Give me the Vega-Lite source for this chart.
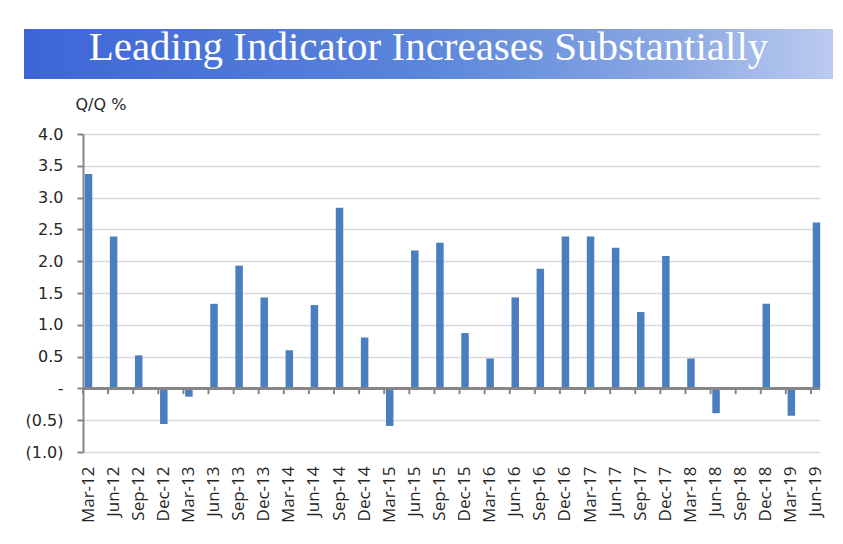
{
  "$schema": "https://vega.github.io/schema/vega-lite/v6.json",
  "padding": {"left": 24, "top": 27, "right": 5, "bottom": 0},
  "background": "white",
  "config": {"view": {"stroke": null}},
  "spacing": 17,
  "vconcat": [
    {
      "width": 809,
      "height": 50,
      "data": {"values": [{"title": "Leading Indicator Increases Substantially"}]},
      "layer": [
        {
          "mark": {
            "type": "rect",
            "color": {
              "gradient": "linear",
              "x1": 0, "y1": 0, "x2": 1, "y2": 0,
              "stops": [
                {"offset": 0, "color": "#3e65d7"},
                {"offset": 0.5, "color": "#5b86da"},
                {"offset": 0.8, "color": "#8aa8e3"},
                {"offset": 1, "color": "#bccbf0"}
              ]
            }
          },
          "encoding": {}
        },
        {
          "mark": {"type": "text", "font": "Liberation Serif", "fontSize": 41, "color": "white", "align": "center", "baseline": "alphabetic", "dy": 6},
          "encoding": {"text": {"field": "title"}}
        }
      ]
    },
    {
      "spacing": 0,
      "hconcat": [
        {
          "width": 1,
          "height": 318,
          "data": {"values": [{"t": ""}]},
          "mark": {"type": "text"},
          "encoding": {"text": {"field": "t"}}
        },
        {
          "width": 737,
          "height": 318,
          "data": {"values": [
            {"q": "Mar-12", "v": 3.37},
            {"q": "Jun-12", "v": 2.39},
            {"q": "Sep-12", "v": 0.52},
            {"q": "Dec-12", "v": -0.56},
            {"q": "Mar-13", "v": -0.13},
            {"q": "Jun-13", "v": 1.33},
            {"q": "Sep-13", "v": 1.93},
            {"q": "Dec-13", "v": 1.43},
            {"q": "Mar-14", "v": 0.6},
            {"q": "Jun-14", "v": 1.31},
            {"q": "Sep-14", "v": 2.84},
            {"q": "Dec-14", "v": 0.8},
            {"q": "Mar-15", "v": -0.59},
            {"q": "Jun-15", "v": 2.17},
            {"q": "Sep-15", "v": 2.29},
            {"q": "Dec-15", "v": 0.87},
            {"q": "Mar-16", "v": 0.47},
            {"q": "Jun-16", "v": 1.43},
            {"q": "Sep-16", "v": 1.88},
            {"q": "Dec-16", "v": 2.39},
            {"q": "Mar-17", "v": 2.39},
            {"q": "Jun-17", "v": 2.21},
            {"q": "Sep-17", "v": 1.2},
            {"q": "Dec-17", "v": 2.08},
            {"q": "Mar-18", "v": 0.47},
            {"q": "Jun-18", "v": -0.39},
            {"q": "Sep-18", "v": 0.0},
            {"q": "Dec-18", "v": 1.33},
            {"q": "Mar-19", "v": -0.43},
            {"q": "Jun-19", "v": 2.61}
          ]},
          "layer": [
            {
              "mark": {"type": "bar", "width": 7.5, "xOffset": 5.5, "color": "#4a7ebf"},
              "encoding": {
                "x": {
                  "field": "q", "type": "ordinal", "sort": null,
                  "scale": {"type": "point", "padding": 0.18, "align": 0},
                  "axis": {
                    "orient": "bottom", "title": null, "domain": false, "ticks": false, "tickSize": 0,
                    "grid": false, "labelAngle": -90, "labelPadding": 14, "labelOffset": 5,
                    "labelFont": "Open Sans", "labelFontSize": 17, "labelColor": "#262626",
                    "labelOverlap": false, "labelBound": false, "labelFlush": false
                  }
                },
                "y": {
                  "field": "v", "type": "quantitative",
                  "scale": {"domain": [-1, 4], "nice": false, "zero": false},
                  "axis": {
                    "values": [-1, -0.5, 0, 0.5, 1, 1.5, 2, 2.5, 3, 3.5, 4],
                    "labelExpr": "datum.value > 0 ? format(datum.value, '.1f') + '\u2008' : (datum.value < 0 ? '(' + format(-datum.value, '.1f') + ')' : '-\u2003')",
                    "labelFont": "DejaVu Sans", "labelFontSize": 16, "labelColor": "#262626", "labelPadding": 14,
                    "labelOverlap": false, "labelBound": false, "labelFlush": false,
                    "grid": true, "gridColor": "#d9d9d9", "gridWidth": 1.5,
                    "domain": true, "domainColor": "#868686", "domainWidth": 2,
                    "ticks": true, "tickColor": "#868686", "tickSize": 6, "tickWidth": 2,
                    "title": "Q/Q %", "titleAngle": 0, "titleAlign": "left", "titleBaseline": "alphabetic",
                    "titleX": -8, "titleY": -25, "titleFont": "DejaVu Sans", "titleFontSize": 16,
                    "titleFontWeight": "normal", "titleColor": "#262626"
                  }
                }
              }
            },
            {
              "mark": {"type": "rule", "color": "#868686", "strokeWidth": 2},
              "encoding": {
                "x": {"field": "q", "type": "ordinal", "sort": null, "scale": {"type": "point", "padding": 0.18, "align": 0}},
                "y": {
                  "datum": 0, "type": "quantitative",
                  "axis": {
                    "values": [-1, -0.5, 0, 0.5, 1, 1.5, 2, 2.5, 3, 3.5, 4],
                    "labelExpr": "datum.value > 0 ? format(datum.value, '.1f') + '\u2008' : (datum.value < 0 ? '(' + format(-datum.value, '.1f') + ')' : '-\u2003')",
                    "labelFont": "DejaVu Sans", "labelFontSize": 16, "labelColor": "#262626", "labelPadding": 14,
                    "labelOverlap": false, "labelBound": false, "labelFlush": false,
                    "grid": true, "gridColor": "#d9d9d9", "gridWidth": 1.5,
                    "domain": true, "domainColor": "#868686", "domainWidth": 2,
                    "ticks": true, "tickColor": "#868686", "tickSize": 6, "tickWidth": 2,
                    "title": "Q/Q %", "titleAngle": 0, "titleAlign": "left", "titleBaseline": "alphabetic",
                    "titleX": -8, "titleY": -25, "titleFont": "DejaVu Sans", "titleFontSize": 16,
                    "titleFontWeight": "normal", "titleColor": "#262626"
                  }
                },
                "y2": {"datum": -0.09}
              }
            },
            {
              "mark": {"type": "rule", "color": "#868686", "strokeWidth": 2},
              "encoding": {
                "y": {
                  "datum": 0, "type": "quantitative",
                  "axis": {
                    "values": [-1, -0.5, 0, 0.5, 1, 1.5, 2, 2.5, 3, 3.5, 4],
                    "labelExpr": "datum.value > 0 ? format(datum.value, '.1f') + '\u2008' : (datum.value < 0 ? '(' + format(-datum.value, '.1f') + ')' : '-\u2003')",
                    "labelFont": "DejaVu Sans", "labelFontSize": 16, "labelColor": "#262626", "labelPadding": 14,
                    "labelOverlap": false, "labelBound": false, "labelFlush": false,
                    "grid": true, "gridColor": "#d9d9d9", "gridWidth": 1.5,
                    "domain": true, "domainColor": "#868686", "domainWidth": 2,
                    "ticks": true, "tickColor": "#868686", "tickSize": 6, "tickWidth": 2,
                    "title": "Q/Q %", "titleAngle": 0, "titleAlign": "left", "titleBaseline": "alphabetic",
                    "titleX": -8, "titleY": -25, "titleFont": "DejaVu Sans", "titleFontSize": 16,
                    "titleFontWeight": "normal", "titleColor": "#262626"
                  }
                }
              }
            }
          ]
        }
      ]
    }
  ]
}
